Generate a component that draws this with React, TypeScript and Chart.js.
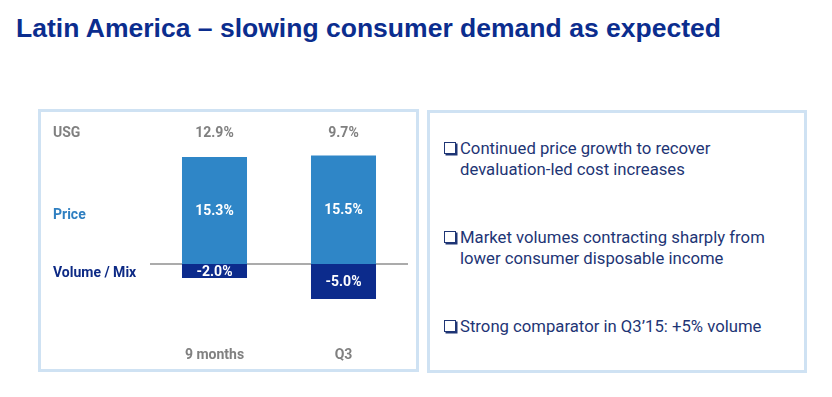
import React, { useEffect, useRef } from "react";
import { Chart, registerables } from "chart.js";

Chart.register(...registerables);

const title = "Latin America \u2013 slowing consumer demand as expected";
const categories = ["9 months", "Q3"];
const usgValues = [12.9, 9.7];
const priceValues = [15.3, 15.5];
const volumeMixValues = [-2.0, -5.0];
const rowLabels = ["USG", "Price", "Volume / Mix"];
const bullets = [
  ["Continued price growth to recover", "devaluation-led cost increases"],
  ["Market volumes contracting sharply from", "lower consumer disposable income"],
  ["Strong comparator in Q3\u201915: +5% volume"],
];

const PRICE_COLOR = "#2f86c7";
const VOLUME_COLOR = "#0c2b8c";
const NAVY = "#0b2d8e";
const GRAY = "#808080";
const FONT = "Roboto, 'Liberation Sans', sans-serif";

const fmt = (v: number) => (v < 0 ? "-" : "") + Math.abs(v).toFixed(1) + "%";

const overlayPlugin = {
  id: "overlay",
  beforeDatasetsDraw(chart: any) {
    const { ctx, chartArea, scales } = chart;
    const y0 = scales.y.getPixelForValue(0);
    ctx.save();
    ctx.strokeStyle = "#8f8f8f";
    ctx.lineWidth = 1.5;
    ctx.beginPath();
    ctx.moveTo(chartArea.left, y0);
    ctx.lineTo(chartArea.right, y0);
    ctx.stroke();
    ctx.restore();
  },
  afterDatasetsDraw(chart: any) {
    const { ctx, scales } = chart;
    const xs = scales.x;
    const ys = scales.y;
    ctx.save();
    ctx.textBaseline = "middle";
    ctx.font = `bold 14px ${FONT}`;

    ctx.textAlign = "center";
    ctx.fillStyle = "#ffffff";
    chart.data.datasets.forEach((ds: any, di: number) => {
      const meta = chart.getDatasetMeta(di);
      meta.data.forEach((bar: any, i: number) => {
        const props = bar.getProps(["x", "y", "base"], true);
        const cy = (props.y + props.base) / 2;
        ctx.fillText(fmt(ds.data[i]), props.x, cy + 1);
      });
    });

    ctx.fillStyle = GRAY;
    categories.forEach((c, i) => {
      const x = xs.getPixelForValue(i);
      ctx.fillText(fmt(usgValues[i]), x, ys.getPixelForValue(18.7));
      ctx.fillText(c, x, ys.getPixelForValue(-13.1));
    });

    ctx.textAlign = "left";
    const lx = 53;
    ctx.fillStyle = GRAY;
    ctx.fillText(rowLabels[0], lx, ys.getPixelForValue(18.7));
    ctx.fillStyle = "#2f7fc1";
    ctx.fillText(rowLabels[1], lx, ys.getPixelForValue(7));
    ctx.fillStyle = "#0d2a85";
    ctx.fillText(rowLabels[2], lx, ys.getPixelForValue(-1.4));
    ctx.restore();
  },
};

export default function App() {
  const ref = useRef<HTMLCanvasElement>(null);

  useEffect(() => {
    if (!ref.current) return;
    const chart = new Chart(ref.current, {
      type: "bar",
      data: {
        labels: categories,
        datasets: [
          {
            label: rowLabels[1],
            data: priceValues,
            backgroundColor: PRICE_COLOR,
            borderWidth: 0,
            categoryPercentage: 0.504,
            barPercentage: 1,
          },
          {
            label: rowLabels[2],
            data: volumeMixValues,
            backgroundColor: VOLUME_COLOR,
            borderWidth: 0,
            categoryPercentage: 0.504,
            barPercentage: 1,
          },
        ],
      },
      options: {
        responsive: false,
        maintainAspectRatio: false,
        animation: false,
        events: [],
        layout: { padding: { left: 150, right: 424, top: 145, bottom: 63 } },
        plugins: {
          legend: { display: false },
          tooltip: { enabled: false },
          title: { display: false },
        },
        scales: {
          x: { stacked: true, display: false, grid: { display: false } },
          y: { stacked: true, display: false, min: -10, max: 17, grid: { display: false } },
        },
      },
      plugins: [overlayPlugin],
    });
    return () => chart.destroy();
  }, []);

  const boxStyle: React.CSSProperties = {
    position: "absolute",
    boxSizing: "border-box",
    border: "3px solid #cfe2f3",
    background: "#ffffff",
  };

  const bulletTops = [138, 227, 316];

  return (
    <div
      style={{
        position: "absolute",
        left: 0,
        top: 0,
        width: 832,
        height: 397,
        background: "#ffffff",
        overflow: "hidden",
        fontFamily: FONT,
      }}
    >
      <div
        style={{
          position: "absolute",
          left: 16,
          top: 15,
          fontFamily: "'Liberation Sans', Arial, sans-serif",
          fontWeight: "bold",
          fontSize: 26,
          lineHeight: "26px",
          color: NAVY,
          whiteSpace: "nowrap",
          transformOrigin: "left top",
          transform: "scaleX(1.02)",
        }}
      >
        {title}
      </div>
      <div style={{ ...boxStyle, left: 38, top: 109, width: 381, height: 263 }} />
      <div style={{ ...boxStyle, left: 427, top: 110, width: 380, height: 263 }} />
      {bullets.map((lines, i) => (
        <div
          key={i}
          style={{
            position: "absolute",
            left: 444,
            top: bulletTops[i],
            fontSize: 16.7,
            lineHeight: "21px",
            color: "#1e3575",
            whiteSpace: "nowrap",
          }}
        >
          <span
            style={{
              position: "absolute",
              left: 0,
              top: 4,
              width: 10,
              height: 10,
              border: "1.5px solid #1e3575",
              boxShadow: "1.5px 1.5px 0 #1e3575",
            }}
          />
          <div style={{ paddingLeft: 16 }}>
            {lines.map((l, j) => (
              <div key={j}>{l}</div>
            ))}
          </div>
        </div>
      ))}
      <canvas
        ref={ref}
        width={832}
        height={397}
        style={{ position: "absolute", left: 0, top: 0, width: 832, height: 397 }}
      />
    </div>
  );
}
